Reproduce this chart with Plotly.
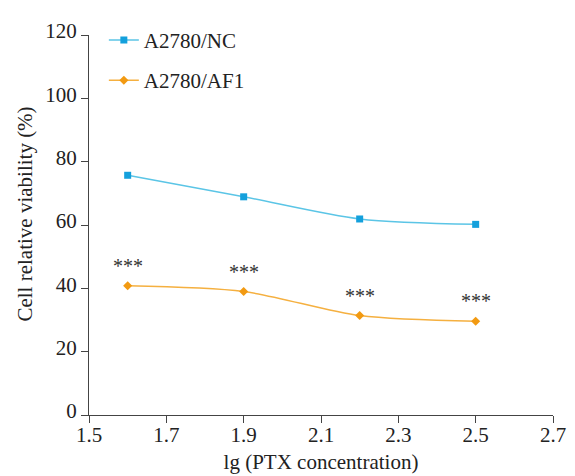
import plotly.graph_objects as go

x_vals = [1.6, 1.9, 2.2, 2.5]
nc_vals = [75.7, 68.9, 61.9, 60.2]
af1_vals = [40.8, 39.0, 31.4, 29.6]
sig_labels = ["***", "***", "***", "***"]
x_ticks = [1.5, 1.7, 1.9, 2.1, 2.3, 2.5, 2.7]
y_ticks = [0, 20, 40, 60, 80, 100, 120]

FONT = "Liberation Serif, Times New Roman, serif"

fig = go.Figure()
fig.add_trace(go.Scatter(
    x=x_vals, y=nc_vals, name="A2780/NC", mode="lines+markers",
    line=dict(color="#5BC5E6", width=1.5, shape="spline", smoothing=0.8),
    marker=dict(symbol="square", size=7, color="#14A0DC"),
    legendgroup="a",
))
fig.add_trace(go.Scatter(
    x=x_vals, y=af1_vals, name="A2780/AF1", mode="lines+markers",
    line=dict(color="#F5B040", width=1.5, shape="spline", smoothing=0.8),
    marker=dict(symbol="diamond", size=7, color="#F29A12"),
    legendgroup="b",
))

for xv, yv, lab in zip(x_vals, af1_vals, sig_labels):
    fig.add_annotation(x=xv, y=yv, text=lab, showarrow=False,
                       yshift=20,
                       font=dict(family=FONT, size=20, color="#333333"))

fig.add_annotation(xref="paper", yref="paper", x=-0.138, y=0.53,
                   xanchor="center", yanchor="middle", textangle=-90,
                   text="Cell relative viability (%)", showarrow=False,
                   font=dict(family=FONT, size=21, color="#222222"))

fig.update_layout(
    width=575, height=476,
    margin=dict(l=81, r=30, t=18, b=69),
    plot_bgcolor="white", paper_bgcolor="white",
    font=dict(family=FONT, size=21, color="#222222"),
    showlegend=True,
    legend=dict(x=0.032, y=1.04, xanchor="left", yanchor="top",
                bgcolor="rgba(0,0,0,0)", tracegroupgap=10,
                font=dict(family=FONT, size=21, color="#222222")),
    xaxis=dict(range=[1.5, 2.7], tickvals=x_ticks,
               ticktext=[f"{v:.1f}" for v in x_ticks],
               showgrid=False, zeroline=False, showline=True,
               linecolor="#444444", linewidth=1.2,
               ticks="outside", ticklen=7, tickcolor="#444444",
               ticklabelstandoff=-6,
               tickfont=dict(family=FONT, size=21),
               title=dict(text="lg (PTX concentration)", standoff=8,
                          font=dict(family=FONT, size=21))),
    yaxis=dict(range=[0, 120], tickvals=y_ticks,
               showgrid=False, zeroline=False, showline=True,
               linecolor="#444444", linewidth=1.2,
               ticks="outside", ticklen=7, tickcolor="#444444",
               ticklabelshift=-4,
               tickfont=dict(family=FONT, size=21)),
)

fig.write_html("out.html")
